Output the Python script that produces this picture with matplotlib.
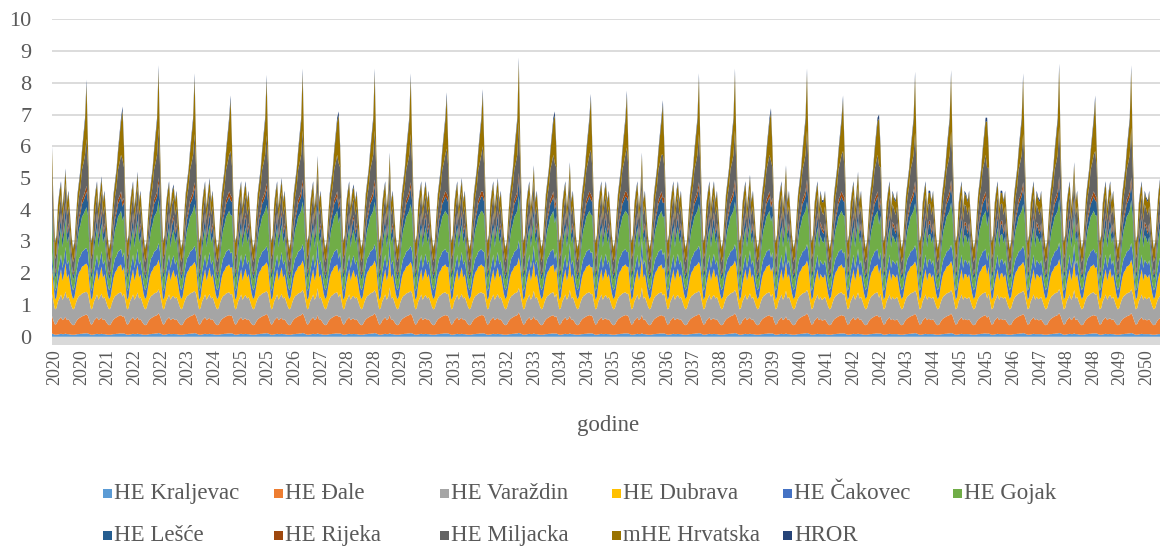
import numpy as np
import matplotlib
matplotlib.use("Agg")
import matplotlib.pyplot as plt
from matplotlib.patches import Rectangle

# ---- podaci (ocitani sa slike) ----
serije = ["HE Kraljevac", "HE Đale", "HE Varaždin", "HE Dubrava", "HE Čakovec", "HE Gojak",
          "HE Lešće", "HE Rijeka", "HE Miljacka", "mHE Hrvatska", "HROR"]
boje = ["#5B9BD5", "#ED7D31", "#A5A5A5", "#FFC000", "#4472C4", "#70AD47",
        "#255E91", "#9E480E", "#636363", "#997300", "#264478"]

# tipican godisnji profil, polumjesecne vrijednosti (24 po godini, od prosinca)
kraljevac = [.10, .08, .06, .06, .07, .08, .09, .08, .08, .09, .08, .08, .07, .06, .06, .06, .07, .08, .08, .09, .09, .10, .10, .11]
dale = [.55, .42, .32, .34, .44, .48, .52, .44, .48, .50, .44, .47, .40, .34, .30, .32, .40, .46, .50, .52, .55, .56, .58, .60]
varazdin = [.70, .60, .48, .50, .60, .65, .72, .64, .70, .75, .68, .70, .64, .56, .50, .52, .60, .66, .70, .70, .72, .72, .72, .72]
dubrava = [.85, .55, .30, .35, .55, .68, .80, .60, .72, .85, .65, .72, .55, .40, .32, .36, .50, .65, .75, .78, .85, .85, .88, .90]
cakovec = [.46, .36, .28, .30, .38, .42, .46, .40, .44, .48, .42, .44, .38, .32, .28, .30, .36, .40, .44, .45, .47, .48, .49, .50]
gojak = [1.15, .70, .38, .42, .68, .78, .85, .65, .78, .85, .68, .75, .55, .40, .32, .36, .58, .78, .90, 1.0, 1.1, 1.15, 1.2, 1.3]
lesce = [.42, .26, .16, .18, .27, .31, .34, .27, .31, .35, .28, .31, .24, .18, .15, .16, .24, .30, .33, .36, .40, .42, .45, .50]
rijeka = [.15, .10, .07, .07, .10, .11, .12, .10, .11, .12, .10, .11, .09, .07, .06, .07, .09, .11, .12, .13, .14, .15, .16, .18]
miljacka = [.95, .55, .39, .41, .51, .55, .57, .49, .55, .57, .50, .53, .45, .39, .35, .37, .47, .55, .60, .70, .95, 1.05, 1.15, 1.5]
mhe = [.57, .51, .51, .52, .54, .47, .35, .37, .36, .36, .41, .42, .48, .43, .42, .44, .43, .44, .40, .49, .54, .82, 1.05, 1.74]
hror = [.10, .07, .05, .05, .06, .07, .08, .06, .07, .08, .06, .07, .05, .05, .04, .04, .06, .07, .08, .08, .09, .10, .12, .15]

# vrhovi ukupne proizvodnje po godini (2020-2050)
vrh_glavni = [8.1, 7.25, 8.55, 8.3, 7.6, 8.25, 8.45, 7.1, 8.45, 8.3, 7.7, 7.8, 8.8, 7.1, 7.65, 7.75,
              7.45, 8.3, 8.45, 7.2, 8.45, 7.6, 7.0, 8.35, 8.4, 6.9, 8.3, 8.6, 7.6, 8.55, 7.0]
vrh_sporedni = [5.3, 5.05, 5.2, 4.8, 5.0, 4.9, 5.0, 5.7, 4.8, 5.8, 4.9, 5.0, 5.0, 5.4, 5.5, 4.9,
                5.8, 4.9, 4.9, 5.1, 5.4, 4.3, 5.2, 4.4, 4.6, 4.5, 4.6, 4.4, 5.5, 4.9, 4.4]

oznake = ["2020", "2020", "2021", "2022", "2022", "2023", "2024", "2025", "2025", "2026", "2027",
          "2028", "2028", "2029", "2030", "2031", "2031", "2032", "2033", "2034", "2034", "2035",
          "2036", "2036", "2037", "2038", "2039", "2039", "2040", "2041", "2042", "2042", "2043",
          "2044", "2045", "2045", "2046", "2047", "2048", "2048", "2049", "2050"]

profili = [kraljevac, dale, varazdin, dubrava, cakovec, gojak, lesce, rijeka, miljacka, mhe, hror]
n_god = len(vrh_glavni)
po_god = len(kraljevac)

stack = np.array([np.tile(np.array(p, dtype=float), n_god) for p in profili])
for g in range(n_god):
    i = g * po_god + 23
    stack[:, i] *= vrh_glavni[g] / stack[:, i].sum()
    i = g * po_god + 9
    stack[:, i] *= vrh_sporedni[g] / stack[:, i].sum()

dani = -30 + np.arange(stack.shape[1]) * 365.25 / po_god

W, H = 1165, 547
fig = plt.figure(figsize=(W / 100, H / 100), dpi=100)
ax = fig.add_axes([52 / W, 1 - 344.6 / H, 1108 / W, 325.3 / H])

ax.stackplot(dani, stack, colors=boje, linewidth=0.0)
ax.axhspan(-0.25, 0, color="#D9D9D9", zorder=0)

ax.set_xlim(-30, 11204)
ax.set_ylim(-0.25, 10)
ax.set_yticks(range(11))
ax.yaxis.grid(True, color="#D9D9D9", linewidth=1.3)
ax.set_axisbelow(True)
for s in ax.spines.values():
    s.set_visible(False)

ax.set_xticks([270 * k for k in range(len(oznake))])
ax.set_xticklabels(oznake, rotation=90, fontsize=13, family="Liberation Serif", color="#595959")
for t in ax.get_yticklabels():
    t.set_family("Liberation Serif")
    t.set_fontsize(16)
    t.set_color("#595959")
ax.tick_params(axis="x", length=0, pad=3)
ax.tick_params(axis="y", length=0, pad=15)

fig.text(608 / W, 1 - 425 / H, "godine", ha="center", va="center", fontsize=16.5,
         family="Liberation Serif", color="#595959")

# legenda (rucno, kao u Excelu)
leg_x = [103, 274, 440, 612, 783, 953, 103, 274, 440, 612, 783]
leg_y = [493, 493, 493, 493, 493, 493, 535, 535, 535, 535, 535]
for ime, boja, lx, ly in zip(serije, boje, leg_x, leg_y):
    fig.add_artist(Rectangle((lx / W, 1 - (ly + 5) / H), 9 / W, 9 / H,
                             transform=fig.transFigure, color=boja, lw=0))
    fig.text((lx + 11) / W, 1 - (ly + 6) / H, ime, ha="left", va="baseline", fontsize=16.5,
             family="Liberation Serif", color="#595959")

fig.savefig("out.png", dpi=100)
